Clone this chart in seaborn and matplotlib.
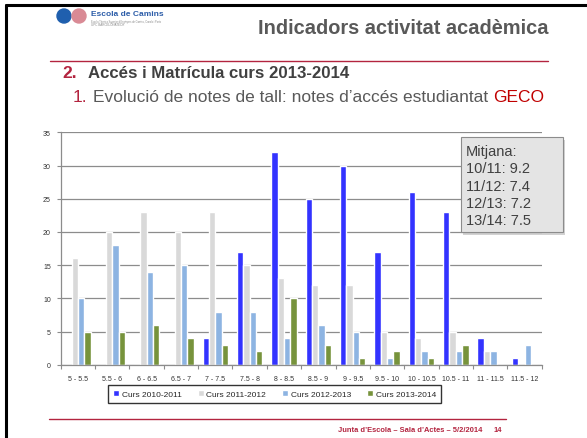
import pandas as pd
import seaborn as sns
import matplotlib.pyplot as plt
from matplotlib.patches import Ellipse, Rectangle
from matplotlib.lines import Line2D

# Intervals of access grade
intervals = ['5 - 5.5', '5.5 - 6', '6 - 6.5', '6.5 - 7', '7 - 7.5', '7.5 - 8', '8 - 8.5',
             '8.5 - 9', '9 - 9.5', '9.5 - 10', '10 - 10.5', '10.5 - 11', '11 - 11.5', '11.5 - 12']
courses = ['Curs 2010-2011', 'Curs 2011-2012', 'Curs 2012-2013', 'Curs 2013-2014']
curs_2010 = [0, 0, 0, 0, 4, 17, 32, 25, 30, 17, 26, 23, 4, 1]
curs_2011 = [16, 20, 23, 20, 23, 15, 13, 12, 12, 5, 4, 5, 2, 0]
curs_2012 = [10, 18, 14, 15, 8, 8, 4, 6, 5, 1, 2, 2, 2, 3]
curs_2013 = [5, 5, 6, 4, 3, 2, 10, 3, 1, 2, 1, 3, 0, 0]
means = ['10/11: 9.2', '11/12: 7.4', '12/13: 7.2', '13/14: 7.5']

colors = ['#3333FF', '#D9D9D9', '#8DB4E2', '#77933C']
red = '#B3243F'

sns.set_style('white')
plt.rcParams['font.family'] = ['Liberation Sans', 'DejaVu Sans']

df = pd.DataFrame({'interval': intervals * 4,
                   'curs': [c for c in courses for _ in intervals],
                   'n': curs_2010 + curs_2011 + curs_2012 + curs_2013})

W, H = 587, 439
fig = plt.figure(figsize=(W / 100, H / 100), dpi=100)

def fx(x):
    return x / W

def fy(y):
    return 1 - y / H

# slide frame (top and left only)
fig.add_artist(Line2D([fx(5.5), 1], [fy(5.5), fy(5.5)], color='black', lw=2.2))
fig.add_artist(Line2D([fx(5.5), fx(5.5)], [fy(5.5), 0], color='black', lw=2.2))

# logo
fig.add_artist(Ellipse((fx(64), fy(17)), 14 / W, 14 / H, color='#1F5FAE',
                       transform=fig.transFigure))
fig.add_artist(Ellipse((fx(79), fy(17)), 14 / W, 14 / H, color='#D98A95',
                       transform=fig.transFigure))
fig.text(fx(91), fy(14.5), 'Escola de Camins', color='#2B5CA8', fontsize=6.0,
         fontweight='bold', va='center')
fig.text(fx(91), fy(21.5), "Escola Tècnica Superior d'Enginyers de Camins, Canals i Ports",
         color='#888888', fontsize=1.8, va='center')
fig.text(fx(91), fy(25), 'UPC BARCELONATECH', color='#888888', fontsize=2.2, va='center')

# header
fig.text(fx(548), fy(28), 'Indicadors activitat acadèmica', color='#595959',
         fontsize=14.4, fontweight='bold', ha='right', va='center')
fig.add_artist(Line2D([fx(50), fx(548)], [fy(62), fy(62)], color=red, lw=1))
fig.text(fx(62), fy(74), '2.', color=red, fontsize=12.5, fontweight='bold', va='center')
fig.text(fx(88), fy(74), 'Accés i Matrícula curs 2013-2014', color='#404040',
         fontsize=12.1, fontweight='bold', va='center')
fig.text(fx(73), fy(98), '1.', color=red, fontsize=12.5, va='center')
t = fig.text(fx(93), fy(98), 'Evolució de notes de tall: notes d’accés estudiantat ',
             color='#595959', fontsize=12.5, va='center')
fig.canvas.draw()
bb = t.get_window_extent()
fig.text(bb.x1 / W, fy(98), 'GECO', color='#C00000', fontsize=12.5, va='center')

# chart
ax = fig.add_axes([fx(60.7), fy(365.7), (541.7 - 60.7) / W, (365.7 - 133.3) / H])
sns.barplot(data=df, x='interval', y='n', hue='curs', hue_order=courses,
            palette=colors, width=0.74, gap=0, saturation=1, ax=ax, legend=True)
ax.set_ylim(0, 35)
ax.set_xlim(-0.5, len(intervals) - 0.5)
ax.set_yticks(range(0, 36, 5))
ax.yaxis.grid(True, color='#8C8C8C', lw=0.9)
ax.set_axisbelow(True)
ax.set_xlabel('')
ax.set_ylabel('')
for s in ['top', 'right']:
    ax.spines[s].set_visible(False)
for s in ['left', 'bottom']:
    ax.spines[s].set_color('#8C8C8C')
    ax.spines[s].set_linewidth(0.9)
ax.tick_params(axis='y', labelsize=5, colors='#8C8C8C', labelcolor='#333333',
               length=3, width=0.8, left=True, pad=4)
ax.tick_params(axis='x', labelsize=5, labelcolor='#333333', length=0, pad=7.5)
ax.set_xticks([i - 0.5 for i in range(len(intervals) + 1)], minor=True)
ax.tick_params(axis='x', which='minor', length=3, width=0.8, colors='#8C8C8C', bottom=True)

handles, labels = ax.get_legend_handles_labels()
ax.legend(handles, labels, loc='center', bbox_to_anchor=(fx(274.5), fy(395)),
          bbox_transform=fig.transFigure, ncol=4, fontsize=6, frameon=True,
          fancybox=False, edgecolor='black', handlelength=0.75, handleheight=0.75,
          handletextpad=0.3, columnspacing=1.9, borderpad=0.6)
ax.get_legend().get_frame().set_linewidth(1)

# mean box
fig.add_artist(Rectangle((fx(463), fy(236)), 102 / W, 95 / H, transform=fig.transFigure,
                         facecolor='#A6A6A6', edgecolor='none', alpha=0.5))
fig.add_artist(Rectangle((fx(460.7), fy(233.3)), 102 / W, 95 / H, transform=fig.transFigure,
                         facecolor='#E4E4E4', edgecolor='#8C8C8C', lw=0.8))
fig.text(fx(466), fy(145), 'Mitjana:\n' + '\n'.join(means), color='#404040',
         fontsize=10.5, va='top', linespacing=1.3)

# footer
fig.add_artist(Line2D([fx(49), fx(506)], [fy(420), fy(420)], color=red, lw=1))
fig.text(fx(482), fy(431), 'Junta d’Escola – Sala d’Actes – 5/2/2014', color=red,
         fontsize=5.4, fontweight='bold', ha='right', va='center')
fig.text(fx(502), fy(431), '14', color=red, fontsize=5.4, fontweight='bold',
         ha='right', va='center')

fig.savefig('out.png', dpi=100)
